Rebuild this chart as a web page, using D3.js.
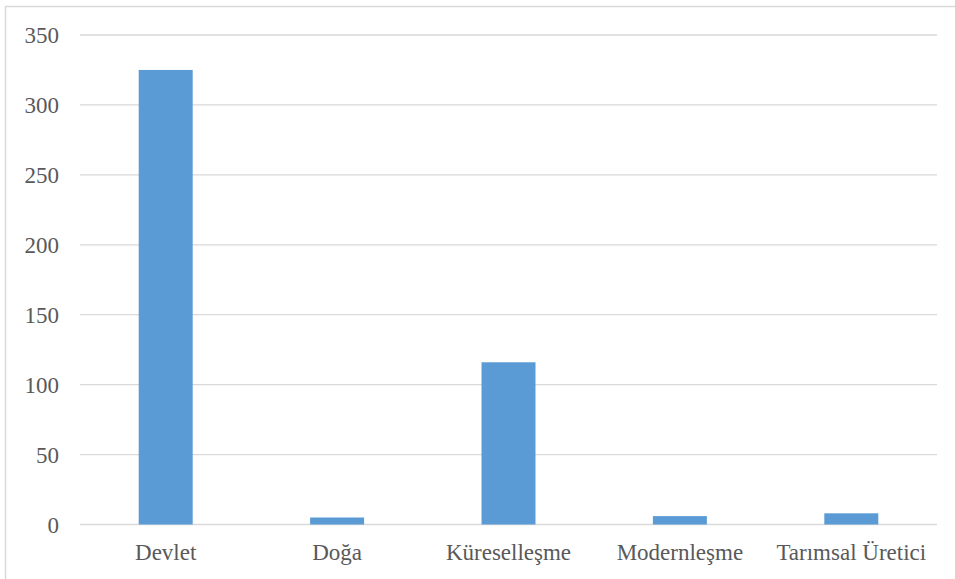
<!DOCTYPE html>
<html><head><meta charset="utf-8">
<script src="https://cdn.jsdelivr.net/npm/d3@7"></script>
<style>body{margin:0;background:#fff;}</style>
</head><body>
<svg id="c" width="955" height="579"></svg>
<script>
const categories = ["Devlet", "Doğa", "Küreselleşme", "Modernleşme", "Tarımsal Üretici"];
const values = [325, 5, 116, 6, 8];
const yTicks = [0, 50, 100, 150, 200, 250, 300, 350];

(function () {
const svg = d3.select("#c");
svg.append("rect").attr("x", 5.5).attr("y", 6.5).attr("width", 960).attr("height", 600)
  .attr("fill", "#fff").attr("stroke", "#d9d9d9").attr("stroke-width", 1.5);

const pLeft = 80, pRight = 937, pTop = 35, pBottom = 524.5;
const x = d3.scaleBand().domain(categories).range([pLeft, pRight]).padding(0);
const y = d3.scaleLinear().domain([0, 350]).range([pBottom, pTop]);

const color = "#595959";
const serif = "Liberation Serif, Tinos, DejaVu Serif, serif";

svg.append("g").selectAll("line").data(yTicks).join("line")
  .attr("x1", pLeft).attr("x2", pRight)
  .attr("y1", d => y(d)).attr("y2", d => y(d))
  .attr("stroke", "#d9d9d9").attr("stroke-width", 1.3);

svg.append("g").selectAll("text").data(yTicks).join("text")
  .attr("x", 59).attr("y", d => y(d)).attr("dy", "0.35em")
  .attr("text-anchor", "end").style("font-family", serif).style("font-size", "23px")
  .attr("fill", color).text(d => d);

const bw = x.bandwidth() * 0.315;
svg.append("g").selectAll("rect").data(values).join("rect")
  .attr("x", (d, i) => x(categories[i]) + x.bandwidth() / 2 - bw / 2)
  .attr("width", bw)
  .attr("y", d => y(d)).attr("height", d => y(0) - y(d))
  .attr("fill", "#5b9bd5");

svg.append("g").selectAll("text").data(categories).join("text")
  .attr("x", d => x(d) + x.bandwidth() / 2).attr("y", 560)
  .attr("text-anchor", "middle").style("font-family", serif).style("font-size", "23px")
  .attr("fill", color).text(d => d);
})();
</script>
</body></html>
